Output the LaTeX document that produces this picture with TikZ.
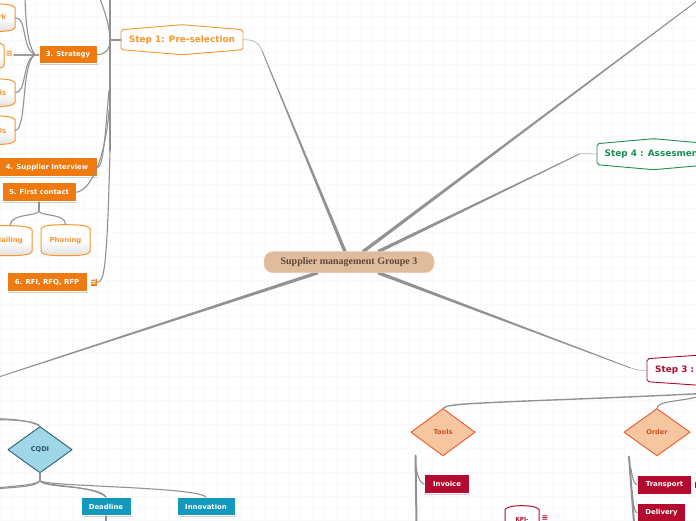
\documentclass[tikz,border=0pt]{standalone}
\usepackage{fontspec}
\setmainfont{DejaVu Sans}
\newfontfamily\titlefont{Liberation Serif}
\usetikzlibrary{shadows,calc}
\definecolor{orng}{HTML}{EE7A10}
\definecolor{orngl}{HTML}{F7962B}
\definecolor{grn}{HTML}{1A8F50}
\definecolor{rd}{HTML}{B40A2E}
\definecolor{teal}{HTML}{1398BE}
\definecolor{lnk}{HTML}{929292}
\definecolor{grd}{HTML}{F9F9F9}
\definecolor{rootf}{HTML}{E0BC9C}
\definecolor{roote}{HTML}{E8CBB0}
\definecolor{roott}{HTML}{5C4A38}
\definecolor{cqdif}{HTML}{A0D7E7}
\definecolor{cqdib}{HTML}{2D5F77}
\definecolor{peach}{HTML}{F5C6A0}
\definecolor{peachb}{HTML}{F0582A}
\tikzset{
  x=1pt,y=-1pt,
  link/.style={draw=lnk,line width=1.1pt,line cap=round},
  thin link/.style={draw=lnk!70,line width=.7pt},
  thick link/.style={draw=lnk,line width=2pt,line cap=round},
  flat/.style={draw=white,line width=.8pt,inner sep=0pt,text=white,font=\bfseries\fontsize{6.9}{8}\selectfont,
    drop shadow={shadow xshift=.6pt,shadow yshift=-.8pt,opacity=.18,fill=black}},
  label/.style={inner sep=0pt,font=\bfseries\fontsize{6.9}{8}\selectfont},
  steplabel/.style={inner sep=0pt,font=\bfseries\fontsize{8.9}{10}\selectfont},
  gem/.style={line width=.9pt,line join=round},
  cand/.style={line width=1pt,top color=white,bottom color=black!12,middle color=white},
  hexline/.style={line width=.9pt,fill=white,rounded corners=2pt},
  hit/.style={inner sep=0pt},
}
% spoke: tapered straight run drawn as one filled wedge
\newcommand{\spoke}[2]{%
  \fill[lnk] ($(#1)!1.7pt!90:(#2)$) -- ($(#2)!.45pt!-90:(#1)$) -- ($(#2)!.45pt!90:(#1)$) -- ($(#1)!1.7pt!-90:(#2)$) -- cycle;}
% hexagon box: name, left, top, right, bottom, shoulder, colour
\newcommand{\hexbox}[7]{%
  \pgfmathsetmacro{\cxx}{(#2+#4)/2}\pgfmathsetmacro{\cyy}{(#3+#5)/2}
  \pgfmathsetmacro{\wdd}{#4-#2}\pgfmathsetmacro{\htt}{#5-#3}
  \draw[hexline,draw=#7] (#2,#3+#6) -- (\cxx,#3) -- (#4,#3+#6) -- (#4,#5-#6) -- (\cxx,#5) -- (#2,#5-#6) -- cycle;
  \node[hit,minimum width=\wdd pt,minimum height=\htt pt] (#1) at (\cxx,\cyy) {};}
% candle box: name, left, top, right, bottom, colour
\newcommand{\candle}[6]{%
  \pgfmathsetmacro{\cxx}{(#2+#4)/2}\pgfmathsetmacro{\cyy}{(#3+#5)/2}
  \pgfmathsetmacro{\wdd}{#4-#2}\pgfmathsetmacro{\htt}{#5-#3}
  \draw[cand,draw=#6] (#2,#3+4) .. controls (#2+2,#3+1) and (#2+8,#3) .. (\cxx,#3)
     .. controls (#4-8,#3) and (#4-2,#3+1) .. (#4,#3+4) -- (#4,#5-4)
     .. controls (#4-2,#5-1) and (#4-8,#5) .. (\cxx,#5)
     .. controls (#2+8,#5) and (#2+2,#5-1) .. (#2,#5-4) -- cycle;
  \node[hit,minimum width=\wdd pt,minimum height=\htt pt] (#1) at (\cxx,\cyy) {};}
% diamond: name, cx, cy, half width, half height, fill, border, text
\newcommand{\gemnode}[8]{%
  \draw[gem,fill=#6,draw=#7] (#2-#4,#3) -- (#2,#3-#5) -- (#2+#4,#3) -- (#2,#3+#5) -- cycle;
  \node[hit,minimum width=2*#4 pt,minimum height=2*#5 pt,font=\bfseries\fontsize{6.6}{8}\selectfont,text=#7!88!black] (#1) at (#2,#3) {#8};}
\begin{document}
\begin{tikzpicture}
\clip (0,0) rectangle (696,520);
\fill[white] (0,0) rectangle (696,520);
\foreach \g in {0,12,...,696} \draw[grd,line width=.4pt] (\g,0) -- (\g,520);
\foreach \g in {4,16,...,520} \draw[grd,line width=.4pt] (0,\g) -- (696,\g);
\begin{scope}[yshift=-0.7pt]

% free ends
\coordinate (spineTop) at (110,-2);
\coordinate (spineEnd) at (110,150);
\coordinate (offTR) at (700,-2);
\coordinate (offL) at (-2,376.5);
\coordinate (bendA) at (262,50);
\coordinate (bendB) at (580,153);
\coordinate (bendC) at (630,367);
\coordinate (rootN) at (345,251);
\coordinate (rootNE) at (363,251);
\coordinate (rootE) at (378,251);
\coordinate (rootSE) at (378,272);
\coordinate (rootSW) at (318,272);
\coordinate (offS) at (698,393);
\coordinate (offS2) at (698,396);
\coordinate (offW) at (-2,419);
\coordinate (offW2) at (-2,418);
\coordinate (hubS) at (35,54);
\coordinate (top1) at (25,-2);
\coordinate (top2) at (100,-2);

% main spokes
\spoke{rootN}{bendA}
\spoke{rootNE}{offTR}
\spoke{rootE}{bendB}
\spoke{rootSE}{bendC}
\spoke{rootSW}{offL}

% step boxes
\hexbox{stepA}{121}{24}{243}{54}{5}{orngl}
\hexbox{stepD}{597}{138}{710}{169}{5}{grn}
\hexbox{stepC}{647}{353}{793}{386}{5}{rd}
\node[steplabel,text=orngl] (stepAt) at (182,39) {Step 1: Pre-selection};
\node[steplabel,text=grn,anchor=west] (stepDt) at (604.5,153.5) {Step 4 : Assesment};
\node[steplabel,text=rd,anchor=west] (stepCt) at (655,369.5) {Step 3 :};
\draw[thin link] (bendA) .. controls (258,41) and (254,39) .. (stepA.east);
\draw[thin link] (bendB) .. controls (590,153) .. (stepD.west);
\draw[thin link] (bendC) .. controls (638,369.5) .. (stepC.west);

% root
\node[hit,fill=rootf,rounded corners=9pt,minimum width=170pt,minimum height=21pt,text=roott,
  font=\titlefont\bfseries\fontsize{10}{11}\selectfont,draw=roote,line width=.5pt] (root) at (349,261.5) {Supplier management Groupe 3};

% orange branch
\draw[link] (spineTop) -- (spineEnd);
\draw[thick link] (stepA.west) -- (110,39);
\draw[link] (top2) .. controls (106,14) and (110,28) .. (110,39);
\node[flat,fill=orng,minimum width=58pt,minimum height=18pt] (strategy) at (68,54) {3. Strategy};
\node[flat,fill=orng,minimum width=101pt,minimum height=19pt] (interview) at (47,166.5) {4. Supplier Interview};
\node[flat,fill=orng,minimum width=74pt,minimum height=19pt] (contact) at (39,191.5) {5. First contact};
\node[flat,fill=orng,minimum width=80pt,minimum height=19pt] (rfi) at (47,281.5) {6. RFI, RFQ, RFP};
\node[hit,fill=orng,draw=white,line width=.5pt,minimum size=7.5pt,text=white,font=\bfseries\fontsize{8}{8}\selectfont] (rfiIcon) at (93.5,281.5) {≡};
\draw[link] (strategy.east) .. controls (104,54) and (110,50) .. (110,39);
\draw[link] (interview.east) .. controls (104,166) and (106,120) .. (109,90);
\draw[link] (contact.east) .. controls (90,190) and (105,160) .. (109,110);
\draw[link] (rfiIcon.east) .. controls (104,281) and (107,270) .. (110,150);

% strategy children
\draw[link] (top1) .. controls (26,25) and (28,45) .. (hubS);
\candle{nA}{-40}{3}{15}{31}{orngl}
\candle{nB}{-50}{41}{4}{69}{orngl}
\candle{nC}{-40}{78}{15}{106}{orngl}
\candle{nD}{-40}{115}{15}{144}{orngl}
\node[label,text=orngl,anchor=east] (nAt) at (6.5,16.5) {rk};
\node[label,text=orngl,anchor=east] (nCt) at (6.5,92) {ls};
\node[label,text=orngl,anchor=east] (nDt) at (6.5,130) {ls};
\node[hit,text=orngl,font=\bfseries\fontsize{9}{9}\selectfont] (nBi) at (9.5,53) {≡};
\draw[thick link,draw=lnk!90] (14,54) -- (strategy.west);
\draw[link] (nA.east) .. controls (27,16) and (22,50) .. (hubS);
\draw[link] (nC.east) .. controls (27,92) and (22,60) .. (hubS);
\draw[link] (nD.east) .. controls (27,130) and (21,62) .. (hubS);
\draw[link] (hubS) -- (strategy.west);

% first contact children
\candle{mail}{-20}{225}{32}{255}{orngl}
\candle{phone}{41}{224}{90}{255}{orngl}
\node[label,text=orngl,anchor=east] (mailt) at (23,239.5) {Mailing};
\node[label,text=orngl] (phonet) at (65.5,239.5) {Phoning};
\coordinate (contactDrop) at (39,210);
\draw[thick link,line width=1.3pt] (contact.south) -- (contactDrop);
\draw[link] (contactDrop) .. controls (39,216) and (12,212) .. (10,224);
\draw[link] (contactDrop) .. controls (39,216) and (65,212) .. (65.5,223.5);

% CQDI
\gemnode{cqdi}{40}{449}{32}{23}{cqdif}{cqdib}{CQDI}
\node[flat,fill=teal,minimum width=50pt,minimum height=18pt] (deadline) at (106,506) {Deadline};
\node[flat,fill=teal,minimum width=58pt,minimum height=18pt] (innovation) at (206,506) {Innovation};
\coordinate (cqdiDrop) at (40,480);
\coordinate (offW3) at (-2,488);
\coordinate (offW4) at (-2,487);
\coordinate (offBot) at (106,522);
\draw[link] (offW) .. controls (18,419) and (38,421) .. (cqdi.north);
\draw[link] (offW2) .. controls (18,418.5) and (34,421) .. (cqdi.north);
\draw[thick link,line width=1.4pt] (cqdi.south) -- (cqdiDrop);
\draw[link] (cqdiDrop) .. controls (44,488) and (100,484) .. (deadline.north);
\draw[link] (cqdiDrop) .. controls (44,486) and (90,484) .. (106,496);
\draw[link] (cqdiDrop) .. controls (46,486) and (200,486) .. (innovation.north);
\draw[link] (cqdiDrop) .. controls (36,486) and (20,486) .. (offW3);
\draw[link] (cqdiDrop) .. controls (36,484) and (20,485) .. (offW4);
\draw[link] (deadline.south) -- (offBot);

% step 3 children
\gemnode{tools}{443}{431.5}{32}{23.5}{peach}{peachb}{Tools}
\gemnode{order}{657}{431.5}{33}{23.5}{peach}{peachb}{Order}
\draw[link,line width=1.4pt] (offS) .. controls (600,398) and (520,400) .. (470,403) .. controls (455,404) and (445,405) .. (tools.north);
\draw[link] (offS2) .. controls (680,401) and (657,400) .. (order.north);

\coordinate (tspineTop) at (415.5,455);
\coordinate (tspineEnd) at (416.5,522);
\coordinate (ospineTop) at (629,456);
\coordinate (ospineEnd) at (634,522);
\draw[thick link] (tspineTop) -- (tspineEnd);
\draw[thick link] (ospineTop) -- (ospineEnd);
\node[flat,fill=rd,minimum width=45pt,minimum height=19pt] (invoice) at (447,483.5) {Invoice};
\node[flat,fill=rd,minimum width=54pt,minimum height=19pt] (transport) at (664.5,484) {Transport};
\node[flat,fill=rd,minimum width=48pt,minimum height=19pt] (delivery) at (661.5,512) {Delivery};
\node[hit,fill=rd,draw=white,line width=.5pt,minimum size=7pt] (tIcon) at (697.5,484) {};
\draw[link] (tspineTop)++(0,8) .. controls (417,475) and (420,482) .. (invoice.west);
\draw[link] (631,468) .. controls (632,476) and (634,484) .. (transport.west);
\draw[link] (632,490) .. controls (633,500) and (634,512) .. (delivery.west);

\candle{kpi}{505}{505}{539}{540}{rd}
\node[label,text=rd,font=\bfseries\fontsize{5.6}{7}\selectfont] (kpit) at (522,519) {KPI-};
\node[hit,text=rd,font=\bfseries\fontsize{8}{8}\selectfont] (kpii) at (545,517.5) {≡};
\end{scope}
\end{tikzpicture}
\end{document}
